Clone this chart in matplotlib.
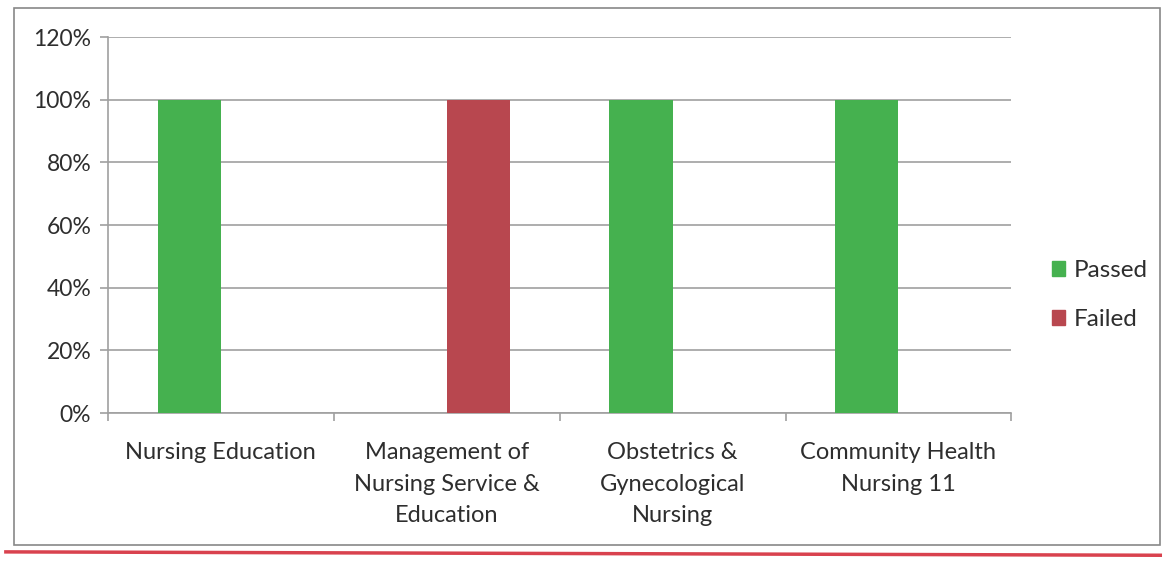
import numpy as np
import matplotlib.pyplot as plt
from matplotlib.patches import Rectangle, Patch
from matplotlib.lines import Line2D
from matplotlib.ticker import PercentFormatter

categories = ['Nursing Education', 'Management of\nNursing Service &\nEducation',
              'Obstetrics &\nGynecological\nNursing', 'Community Health\nNursing 11']
passed = [100, 0, 100, 100]
failed = [0, 100, 0, 0]
yticks = [0, 20, 40, 60, 80, 100, 120]

green = '#45b14f'
red = '#b8474f'
grid_c = '#a0a0a0'
text_c = '#2e2e2e'

plt.rcParams['font.family'] = ['Lato', 'DejaVu Sans']

fig = plt.figure(figsize=(11.72, 5.62), dpi=100)
ax = fig.add_axes([0.092, 0.265, 0.771, 0.669])

x = np.arange(len(categories))
w = 0.28
ax.bar(x - w / 2, passed, w, color=green, label='Passed', zorder=3)
ax.bar(x + w / 2, failed, w, color=red, label='Failed', zorder=3)

ax.set_xlim(-0.5, len(categories) - 0.5)
ax.set_ylim(0, 120)
ax.set_yticks(yticks)
ax.yaxis.set_major_formatter(PercentFormatter(decimals=0))
ax.yaxis.grid(True, color=grid_c, linewidth=1.2, zorder=0)

ax.set_xticks(x)
ax.set_xticklabels(categories, fontsize=17, color=text_c, linespacing=1.62)
ax.tick_params(axis='x', length=0, pad=21)
ax.set_xticks(np.arange(-0.5, len(categories)), minor=True)
ax.tick_params(axis='x', which='minor', length=6, color=grid_c, width=1.2)
ax.tick_params(axis='y', labelsize=16.5, labelcolor=text_c, length=6, color=grid_c, width=1.2, pad=6)

for s in ['top', 'right']:
    ax.spines[s].set_visible(False)
for s in ['left', 'bottom']:
    ax.spines[s].set_color(grid_c)
    ax.spines[s].set_linewidth(1.2)

leg = fig.legend(handles=[Patch(color=green, label='Passed'), Patch(color=red, label='Failed')],
                 loc='center left', bbox_to_anchor=(0.879, 0.475), frameon=False,
                 fontsize=17.5, handlelength=0.55, handleheight=0.55, handletextpad=0.35,
                 labelspacing=1.15)
for t in leg.get_texts():
    t.set_color(text_c)

fig.patches.append(Rectangle((0.012, 0.03), 0.978, 0.955, transform=fig.transFigure,
                             fill=False, edgecolor='#888888', linewidth=1.2))
fig.lines.append(Line2D([0.005, 0.99], [0.018, 0.012], transform=fig.transFigure,
                        color='#d9424e', linewidth=2.5))

fig.savefig('out.png', dpi=100)
